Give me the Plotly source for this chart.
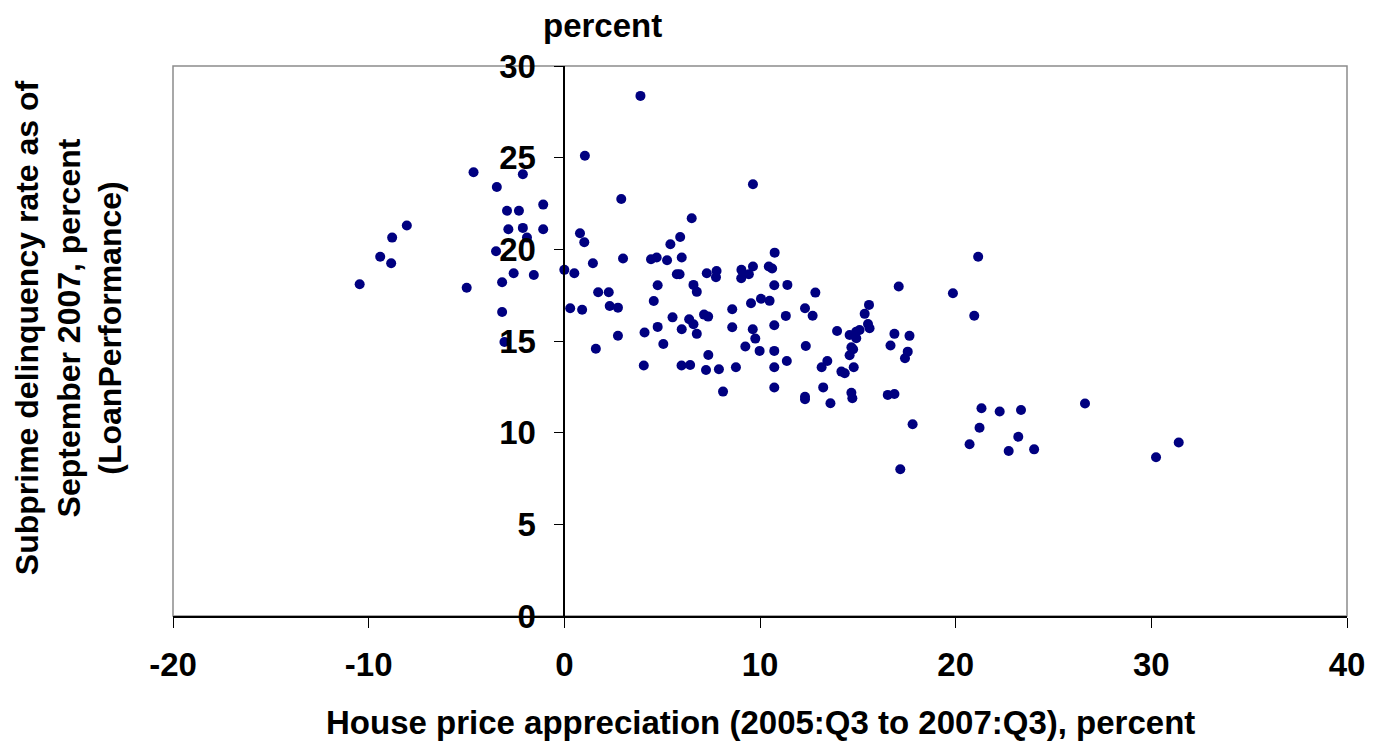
import plotly.graph_objects as go

# House price appreciation (2005:Q3 to 2007:Q3), percent
hpa = [
    -10.46, -9.41, -8.85, -8.80, -8.05, -4.99, -4.64, -3.45, -3.49, -3.18,
    -3.18, -3.06, -2.93, -2.86, -2.59, -2.32, -2.12, -2.12, -1.91, -1.56,
    -1.08, -1.08, 0.00, 0.51, 0.30, 0.80, 1.02, 3.89, 1.05, 2.91,
    9.64, 6.51, 5.92, 5.42, 10.75, 1.46, 3.00, 4.43, 4.72, 5.25,
    6.00, 5.75, 5.89, 4.77, 6.60, 6.77, 7.28, 7.78, 7.75, 9.05,
    9.04, 9.43, 9.64, 10.45, 10.62, 10.73, 11.40, 1.73, 2.27, 4.57,
    2.32, 2.74, 0.91, 8.58, 9.54, 10.05, 10.49, 10.73, 5.53, 6.38,
    6.60, 7.14, 7.35, 4.77, 4.10, 6.00, 6.77, 8.58, 9.63, 9.76,
    9.25, 9.98, 10.73, 2.74, 5.06, 1.61, 7.36, 4.06, 5.99, 6.43,
    7.24, 7.90, 8.77, 10.73, 8.11, 10.73, 12.83, 12.30, 12.69, 11.32,
    15.57, 15.35, 15.52, 15.60, 17.09, 19.86, 21.15, 20.95, 12.34, 13.94,
    14.58, 14.92, 15.09, 14.92, 14.67, 14.76, 14.58, 14.79, 11.37, 13.15,
    13.44, 14.16, 14.33, 13.23, 12.30, 12.30, 13.60, 14.67, 14.72, 16.53,
    16.87, 16.87, 17.64, 16.67, 17.55, 17.41, 17.80, 17.17, 21.32, 22.25,
    23.34, 21.22, 20.71, 23.20, 22.71, 24.01, 26.61, 31.40, 30.24,
]

# Subprime delinquency rate as of September 2007, percent
delinquency = [
    18.10, 19.60, 19.24, 20.64, 21.30, 17.90, 24.20, 23.40, 19.90, 18.20,
    16.58, 14.95, 22.10, 21.10, 18.70, 22.10, 24.10, 21.17, 20.64, 18.60,
    22.44, 21.10, 18.88, 18.70, 16.79, 20.88, 20.39, 28.37, 25.10, 22.75,
    23.55, 21.70, 20.67, 20.28, 19.82, 19.24, 19.50, 19.46, 19.55, 19.40,
    19.55, 18.64, 18.64, 18.04, 18.06, 17.68, 18.70, 18.82, 18.48, 18.88,
    18.42, 18.64, 19.06, 19.06, 18.95, 18.04, 18.06, 17.66, 17.66, 17.18,
    16.91, 16.82, 16.70, 16.73, 17.06, 17.30, 17.19, 15.86, 16.29, 16.19,
    15.91, 16.44, 16.33, 15.77, 15.46, 15.64, 15.39, 15.75, 15.64, 15.13,
    14.70, 14.46, 14.46, 15.29, 14.84, 14.58, 14.24, 13.66, 13.66, 13.69,
    13.42, 13.46, 13.57, 13.57, 12.24, 12.46, 17.64, 16.79, 16.38, 16.37,
    16.97, 16.48, 15.93, 15.70, 17.97, 17.60, 19.60, 16.38, 14.73, 15.55,
    15.33, 15.51, 15.60, 15.15, 14.66, 14.55, 14.22, 13.57, 13.91, 13.57,
    13.91, 13.33, 13.24, 12.47, 11.96, 11.82, 11.60, 12.18, 11.88, 12.06,
    12.11, 15.39, 15.28, 14.75, 14.42, 14.06, 10.46, 8.00, 11.33, 11.15,
    11.24, 10.27, 9.37, 9.78, 9.00, 9.09, 11.59, 9.46, 8.66,
]

x_ticks = [-20, -10, 0, 10, 20, 30, 40]
x_tick_labels = ["-20", "-10", "0", "10", "20", "30", "40"]
y_ticks = [0, 5, 10, 15, 20, 25, 30]
y_tick_labels = ["0", "5", "10", "15", "20", "25", "30"]

FONT = "Liberation Sans, Arial, sans-serif"
BOLD = dict(family=FONT, size=33, weight="bold", color="black")

fig = go.Figure()
fig.add_trace(go.Scatter(
    x=hpa, y=delinquency, mode="markers",
    marker=dict(color="#000080", size=10, line=dict(width=0)),
    showlegend=False, hoverinfo="x+y",
))

fig.update_layout(
    width=1377, height=743,
    margin=dict(l=173, r=20, t=66, b=127),
    paper_bgcolor="white", plot_bgcolor="white",
    font=BOLD,
    xaxis=dict(
        range=[-20, 40], tickvals=x_ticks, ticktext=x_tick_labels,
        showgrid=False, zeroline=False,
        showline=True, linecolor="black", linewidth=1.5,
        ticks="outside", ticklen=10, tickcolor="black", tickwidth=1,
        tickfont=BOLD, ticklabelstandoff=9, ticklabeloverflow="allow",
    ),
    yaxis=dict(
        range=[0, 30], tickvals=y_ticks, ticktext=y_tick_labels,
        showgrid=False, zeroline=False,
        anchor="free", position=1/3,
        showline=True, linecolor="black", linewidth=1.5,
        ticks="outside", ticklen=10, tickcolor="black", tickwidth=1,
        tickfont=BOLD, ticklabelstandoff=11, ticklabeloverflow="allow",
    ),
    shapes=[dict(type="rect", xref="paper", yref="paper", x0=0, x1=1, y0=0, y1=1,
                 line=dict(color="#8c8c8c", width=1.5), layer="below")],
    annotations=[
        dict(text="percent", xref="paper", yref="paper", x=0.3657, y=1.0745,
             showarrow=False, xanchor="center", yanchor="middle", font=BOLD),
        dict(text="House price appreciation (2005:Q3 to 2007:Q3), percent",
             xref="paper", yref="paper", x=0.500, y=-0.1945,
             showarrow=False, xanchor="center", yanchor="middle", font=BOLD),
        dict(text="Subprime delinquency rate as of<br>September 2007, percent<br>(LoanPerformance)",
             xref="paper", yref="paper", x=-0.0893, y=0.5236, textangle=-90,
             showarrow=False, xanchor="center", yanchor="middle",
             font=dict(family=FONT, size=32, weight="bold", color="black")),
    ],
)

fig.write_html(
    "out.html",
    config={"displayModeBar": False},
    post_script="document.body.style.margin='0';document.body.style.overflow='hidden';",
)
